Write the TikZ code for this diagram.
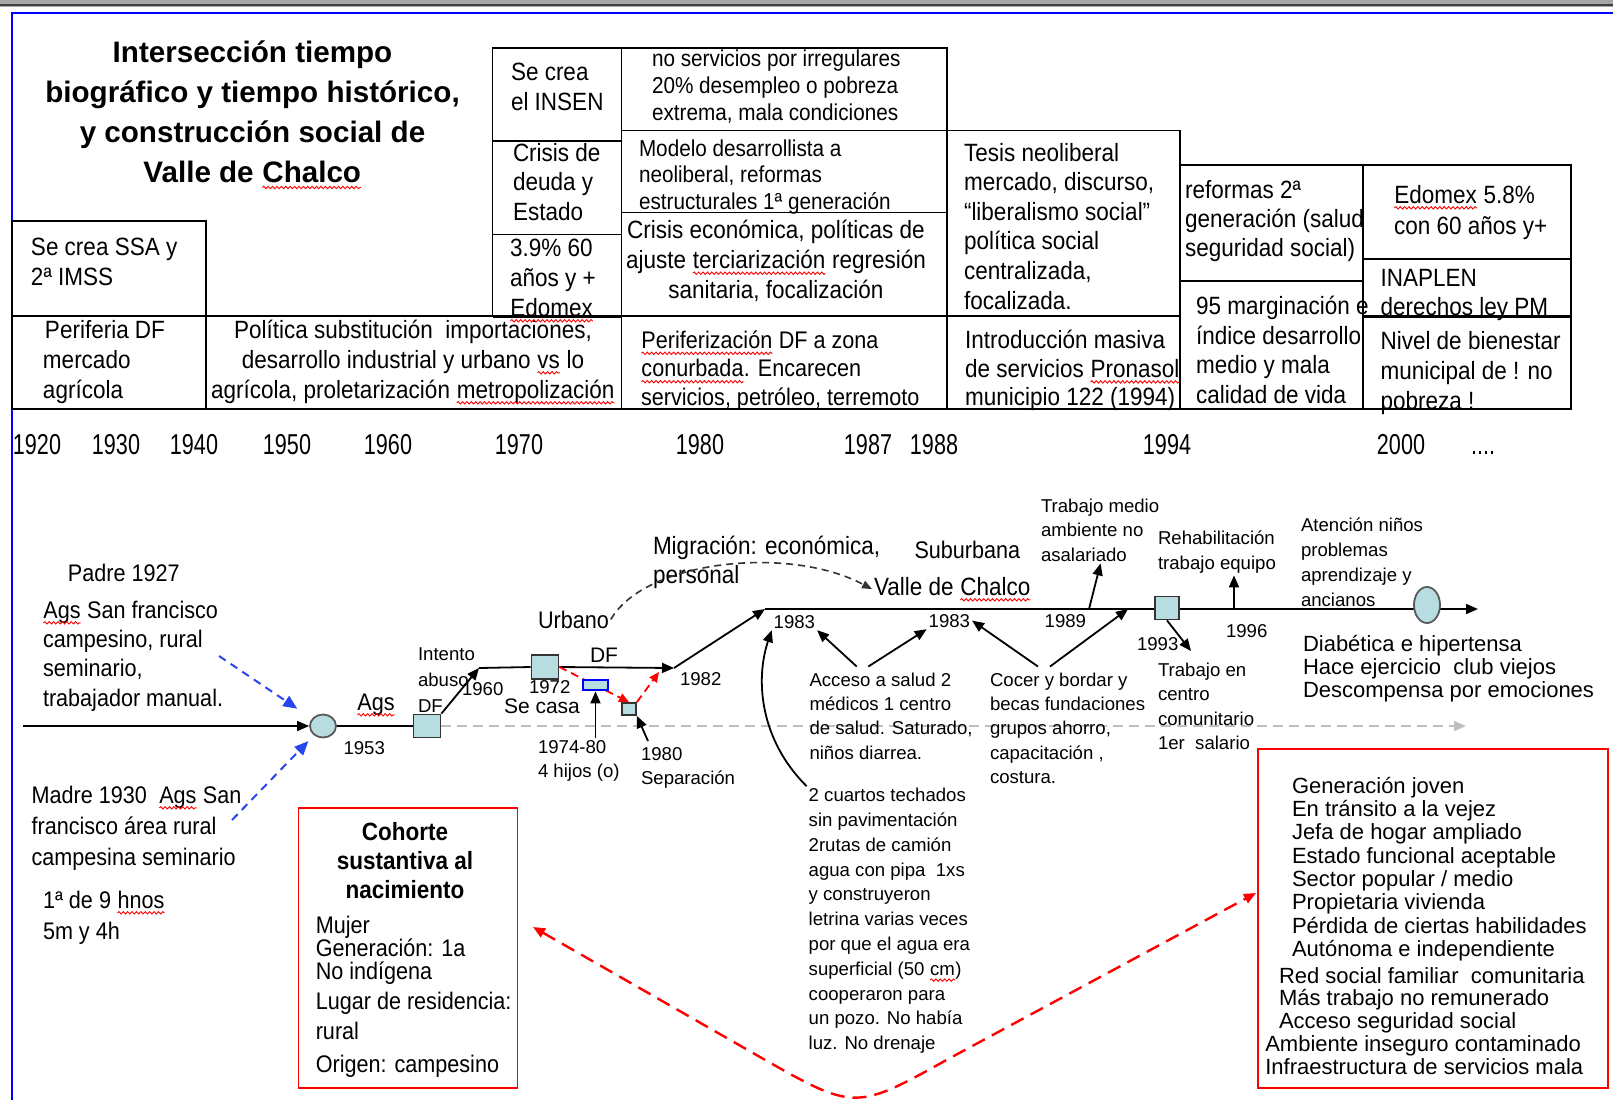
\documentclass[tikz,border=0pt]{standalone}
\usepackage{fontspec}
\setmainfont{Liberation Sans}
\newfontfamily\nar{Liberation Sans}[FakeStretch=0.9]
\newfontfamily\cond{Liberation Sans}[FakeStretch=0.75]
\usetikzlibrary{arrows.meta,shapes.geometric,decorations.pathmorphing}
\definecolor{evfill}{RGB}{183,221,225}
\definecolor{azul}{RGB}{40,70,240}
\newcommand{\fs}[2]{\fontsize{#1}{#2}\selectfont}
% red wavy underline of the spell checker
\newcommand{\wv}[1]{\tikz[baseline=(w.base)]{\node[inner sep=0, outer sep=0, anchor=base] (w) at (0,0) {#1};
    \draw[red, line width=0.45pt, decorate, decoration={snake, amplitude=0.6pt, segment length=2.2pt}]
        ([yshift=-2.4pt]w.base west) -- ([yshift=-2.4pt]w.base east);}}
% multi-line nodes sit on the baseline of their last line
\tikzstyle{cell}=[draw, line width=0.9pt]
\tikzstyle{txt}=[inner sep=0, outer sep=1pt, anchor=base west, align=left]
\tikzstyle{tab}=[txt, font=\nar\fs{12.5}{15}]
\tikzstyle{lbl}=[txt, font=\fs{9.3}{12.3}]
\tikzstyle{med}=[txt, font=\nar\fs{12}{14.7}]
\tikzstyle{year}=[inner sep=0, anchor=base, font=\cond\fs{14.4}{16}]
\tikzstyle{event}=[draw=black!80, fill=evfill, line width=0.9pt, inner sep=0, minimum width=13.5pt, minimum height=11.5pt]
\tikzstyle{life}=[ellipse, draw=black!65, fill=evfill, line width=0.9pt, inner sep=0]
\tikzstyle{redbox}=[draw=red, line width=0.9pt, inner sep=0]
\tikzstyle{line}=[line width=0.9pt]
\tikzstyle{arr}=[line width=0.9pt, -{Triangle[length=6pt,width=5pt]}]
\tikzstyle{graydash}=[draw=black!25, line width=0.9pt, dash pattern=on 5pt off 3pt, -{Triangle[length=6pt,width=5pt]}]
\tikzstyle{rdsmall}=[red, line width=0.9pt, dash pattern=on 4pt off 2.5pt, -{Triangle[length=5pt,width=4.5pt]}]
\tikzstyle{reddash}=[red, line width=1.2pt, dash pattern=on 7pt off 4pt, {Triangle[length=6pt,width=5pt]}-{Triangle[length=6pt,width=5pt]}]
\tikzstyle{bluedash}=[azul, line width=1pt, dash pattern=on 4pt off 3pt, -{Triangle[length=7pt,width=6pt]}]
\tikzstyle{migr}=[black!80, line width=0.8pt, dash pattern=on 3.5pt off 2.5pt, -{Triangle[length=5pt,width=4pt]}]

\begin{document}
\begin{tikzpicture}[x=0.5pt, y=-0.5pt]
    \useasboundingbox (0,0) rectangle (1613,1100);
    \fill[white] (0,0) rectangle (1613,1100);
    \fill[black!35] (0,0) rectangle (1613,7);
    \draw[black!75, line width=1.2pt] (0,5) -- (1613,5);
    \draw[blue, line width=1pt] (12,1100) -- (12,12.5) -- (1613,12.5);
    % historical table
    \foreach \xa/\ya/\xb/\yb in {12/221/206/316, 12/316/206/409, 206/316/621.5/409,
        492.5/48/621.5/141, 492.5/141/621.5/234.5, 492.5/234.5/621.5/316,
        621.5/48/947/130.5, 621.5/130.5/947/212.5, 621.5/212.5/947/316, 621.5/316/947/409,
        947/130.5/1180/316, 947/316/1180/409, 1180/165/1363/281, 1180/281/1363/409,
        1363/165/1571/259, 1363/259/1571/316, 1363/316/1571/409}
        \draw[cell] (\xa,\ya) rectangle (\xb,\yb);
    \node[inner sep=0, anchor=base, align=center, font=\bfseries\fs{14.8}{20}] (titulo) at (252.5,182.7)
        {Intersección tiempo\\biográfico y tiempo histórico,\\y construcción social de\\Valle de \wv{Chalco}};
    \node[tab] (ssa) at (29,285) {Se crea SSA y\\2ª IMSS};
    \node[tab] (periferia) at (43,398) {Periferia DF\\\hspace{-1pt}mercado\\\hspace{-1pt}agrícola};
    \node[tab, anchor=base, align=center] (politica) at (413,398)
        {Política substitución\ \ importaciones,\\desarrollo industrial y urbano \wv{vs} lo\\agrícola, proletarización \wv{metropolización}};
    \node[tab] (insen) at (509,110) {Se crea\\el INSEN};
    \node[tab, font=\nar\fs{12.5}{14.75}] (deuda) at (511,220) {Crisis de\\deuda y\\Estado};
    \node[tab] (pct39) at (508,316) {3.9\% 60\\años y +\\\wv{Edomex}};
    \node[tab, font=\nar\fs{11.5}{13.5}] (noserv) at (650,120) {no servicios por irregulares\\20\% desempleo o pobreza\\extrema, mala condiciones};
    \node[tab, font=\nar\fs{11.5}{13.3}] (modelo) at (637,209.2) {Modelo desarrollista a\\neoliberal, reformas\\estructurales 1ª generación};
    \node[tab, anchor=base, align=center, font=\nar\fs{12.5}{15.2}] (crisis) at (776,298.8)
        {Crisis económica, políticas de\\ajuste \wv{terciarización} regresión\\sanitaria, focalización};
    \node[tab, font=\nar\fs{12}{14.2}] (perif) at (639,405.3) {\wv{Periferización} DF a zona\\\wv{conurbada}. Encarecen\\servicios, petróleo, terremoto};
    \node[tab, font=\nar\fs{12.5}{14.8}] (tesis) at (962,309)
        {Tesis neoliberal\\mercado, discurso,\\“liberalismo social”\\política social\\centralizada,\\focalizada.};
    \node[tab, font=\nar\fs{12.5}{14.3}] (intro) at (963,405.7) {Introducción masiva\\de servicios \wv{Pronasol}\\municipio 122 (1994)};
    \node[tab, font=\nar\fs{12.5}{14.7}] (reformas) at (1183,256.8) {reformas 2ª\\generación (salud\\seguridad social)};
    \node[tab, font=\nar\fs{12.5}{14.75}] (marg) at (1194,403) {95 marginación e\\índice desarrollo\\medio y mala\\calidad de vida};
    \node[tab, font=\nar\fs{12.5}{15.5}] (edomex) at (1392,234) {\wv{Edomex} 5.8\%\\con 60 años y+};
    \node[tab, font=\nar\fs{12.5}{14.5}] (inaplen) at (1378.5,315.7) {INAPLEN\\derechos ley PM};
    \node[tab] (nivel) at (1378.5,409.5) {Nivel de bienestar\\municipal de ! no\\pobreza !};
    \draw[line width=1.5pt] (492.5,316) -- (621.5,316) (1363,316) -- (1571,316);
    % years
    \foreach \yr/\xx in {1920/37,1930/116,1940/194,1950/287,1960/388,1970/519,1980/700,1987/868,1988/934,1994/1167,2000/1401}
        \node[year] (a\yr) at (\xx,454) {\yr};
    \node[year] (puntos) at (1483,454) {....};
    % life course
    \coordinate (ini) at (23,726);
    \coordinate (p60) at (479,668);
    \coordinate (p82) at (674,668);
    \coordinate (p83) at (765,609);
    \coordinate (fin) at (1478,609);
    \coordinate (gfin) at (1466,726);
    \node[life, minimum width=13pt, minimum height=11.5pt] (nace) at (323,726) {};
    \node[event] (sqDF) at (427,726) {};
    \draw[graydash] (sqDF.east) -- (gfin);
    \draw[arr] (ini) -- (nace.west);
    \draw[line] (nace.east) -- (sqDF.west);
    \draw[arr] (sqDF.north east) -- (p60);
    \node[event, minimum height=12pt] (sq72) at (545,667) {};
    \node[event, minimum width=7pt, minimum height=6pt] (sq80) at (629,709) {};
    \draw[line] (p60) -- (sq72.west);
    \draw[arr] (sq72.east) -- (p82);
    \draw[arr] (p82) -- (p83);
    \coordinate (sepTip) at (659,672);
    \draw[rdsmall] (sq72.east) -- (sq80.north);
    \draw[rdsmall] (sq80.north east) -- (sepTip);
    \node[event, draw=blue, line width=1pt, minimum width=12.8pt, minimum height=5.4pt] (hijos) at (595.5,685) {};
    \draw[arr] (p83) -- (fin);
    \node[event, minimum width=12pt] (sq93) at (1167,608) {};
    \node[life, minimum width=13pt, minimum height=18pt] (vejez) at (1427,605) {};
    % labels along the line
    \node[med] (ags) at (355,710) {\wv{Ags}};
    \node[lbl] (y53) at (341.5,754) {1953};
    \node[lbl, font=\fs{9.3}{13.2}] (intento) at (416,712.8) {Intento\\abuso\\DF};
    \node[lbl] (y60) at (460,695) {1960};
    \node[lbl] (y72) at (527,693) {1972};
    \node[txt, font=\fs{10.5}{12}] (secasa) at (502,713) {Se casa};
    \node[txt, font=\fs{10.5}{12}] (df) at (588,662) {DF};
    \node[med] (urbano) at (536,628) {Urbano};
    \node[lbl] (y82) at (678,685) {1982};
    \node[lbl] (h7480) at (536,777.6) {1974-80\\4 hijos (o)};
    \node[lbl, font=\fs{9.3}{12}] (sep) at (639,784) {1980\\Separación};
    \draw[arr] (hijos.south |- h7480.north) -- (hijos.south);
    \draw[arr] ([xshift=4.5pt,yshift=2pt]sep.north west) -- (sq80.south east);
    \node[med, font=\nar\fs{12.5}{14.5}] (migra) at (651,583) {Migración: económica,\\personal};
    \node[med] (suburb) at (912.5,558) {Suburbana};
    \node[med, font=\nar\fs{12.5}{15}] (valle) at (872,595) {Valle de \wv{Chalco}};
    \draw[migr] (urbano.east) .. controls (645,560) and (790,545) .. (valle.west);
    \node[lbl] (y83a) at (771.7,628) {1983};
    \node[lbl] (y83b) at (926.7,627) {1983};
    \node[lbl] (y89) at (1042.7,627) {1989};
    \node[lbl] (y93) at (1135,650) {1993};
    \node[lbl] (y96) at (1224,637) {1996};
    \node[lbl] (tmedio) at (1039,561.2) {Trabajo medio\\ambiente no\\asalariado};
    \node[lbl, font=\fs{9.3}{12.5}] (rehab) at (1156,569.5) {Rehabilitación\\trabajo equipo};
    \node[lbl, font=\fs{9.3}{12.5}] (atenc) at (1299,606) {Atención niños\\problemas\\aprendizaje y\\ancianos};
    \node[txt, font=\fs{11}{11.5}] (diab) at (1301,697.5) {Diabética e hipertensa\\Hace ejercicio\ \ club viejos\\Descompensa por emociones};
    \node[lbl, font=\fs{9.3}{12.2}] (tren) at (1156,749.7) {Trabajo en\\centro\\comunitario\\1er\ \ salario};
    \node[lbl, font=\fs{9.3}{12.2}] (acc) at (807.5,759.2) {Acceso a salud 2\\médicos 1 centro\\de salud. Saturado,\\niños diarrea.};
    \node[lbl, font=\fs{9.3}{12.2}] (cocer) at (988,783.6) {Cocer y bordar y\\becas fundaciones\\grupos ahorro,\\capacitación ,\\costura.};
    \node[lbl, font=\fs{9.3}{12.4}] (cuartos) at (806.7,1049.7) {2 cuartos techados\\sin pavimentación\\2rutas de camión\\agua con pipa\ \ 1xs\\y construyeron\\letrina varias veces\\por que el agua era\\superficial (50 \wv{cm})\\cooperaron para\\un pozo. No había\\luz. No drenaje};
    \coordinate (c89) at (1089,609);
    \coordinate (c96) at (1234,609);
    \coordinate (pBordar) at (1128,609);
    \draw[arr] (c89) -- ([xshift=30.8pt]tmedio.south west);
    \draw[arr] (c96) -- (c96 |- rehab.south);
    \draw[arr] (sq93.south) -- ([xshift=17.5pt,yshift=5pt]tren.north west);
    \draw[arr] ([xshift=24.6pt,yshift=2pt]acc.north west) -- (y83a.south east);
    \draw[arr] ([xshift=30.4pt,yshift=2pt]acc.north west) -- (y83b.south west);
    \draw[arr] ([xshift=25pt,yshift=2pt]cocer.north west) -- (y83b.east);
    \draw[arr] ([xshift=31pt,yshift=2pt]cocer.north west) -- (pBordar);
    \draw[arr] (cuartos.north west) .. controls (760,740) and (755,680) .. (y83a.south west);
    % parents
    \node[med] (padre) at (66,581) {Padre 1927};
    \node[med] (padreTxt) at (41,706.2) {\wv{Ags} San francisco\\campesino, rural\\seminario,\\trabajador manual.};
    \node[med, font=\nar\fs{12}{15.5}] (madre) at (29.6,865) {Madre 1930\ \ \wv{Ags} San\\francisco área rural\\campesina seminario};
    \node[med, font=\nar\fs{12}{15.5}] (hnos) at (41,939) {1ª de 9 \wv{hnos}\\5m y 4h};
    \coordinate (padreCola) at (219,656);
    \coordinate (madreCola) at (232,820);
    \draw[bluedash, shorten >=8.8pt] (padreCola) -- (nace);
    \draw[bluedash, shorten >=4pt] (madreCola) -- (nace);
    % cohort and old age boxes
    \node[redbox, minimum width=109.5pt, minimum height=140pt] (cohorte) at (408,948) {};
    \node[inner sep=0, anchor=base, align=center, font=\nar\bfseries\fs{12.5}{14.5}] (cohTit) at (405,898)
        {Cohorte\\sustantiva al\\nacimiento};
    \node[txt, font=\nar\fs{12}{11.7}] (cohTxt) at (313.8,1072.2)
        {Mujer\\Generación: 1a\\No indígena\\[3.3pt]Lugar de residencia:\\[3.3pt]rural\\[4.5pt]Origen: campesino};
    \node[redbox, minimum width=175pt, minimum height=169.5pt] (rbox) at (1433,918.8) {};
    \node[txt, font=\fs{11}{11.67}] (rA) at (1290,956.4)
        {Generación joven\\En tránsito a la vejez\\Jefa de hogar ampliado\\Estado funcional aceptable\\Sector popular / medio\\Propietaria vivienda\\Pérdida de ciertas habilidades\\Autónoma e independiente};
    \node[txt, font=\fs{11}{11.25}] (rB) at (1277,1028)
        {Red social familiar\ \ comunitaria\\Más trabajo no remunerado\\Acceso seguridad social};
    \node[txt, font=\fs{11}{11.7}] (rC) at (1263.3,1074.7)
        {Ambiente inseguro contaminado\\Infraestructura de servicios mala};
    \coordinate (redL) at (533,927);
    \coordinate (redR) at (1256,893);
    \draw[reddash] (redL) -- (760,1057) .. controls (855,1111) .. (950,1058) -- (redR);
\end{tikzpicture}
\end{document}
